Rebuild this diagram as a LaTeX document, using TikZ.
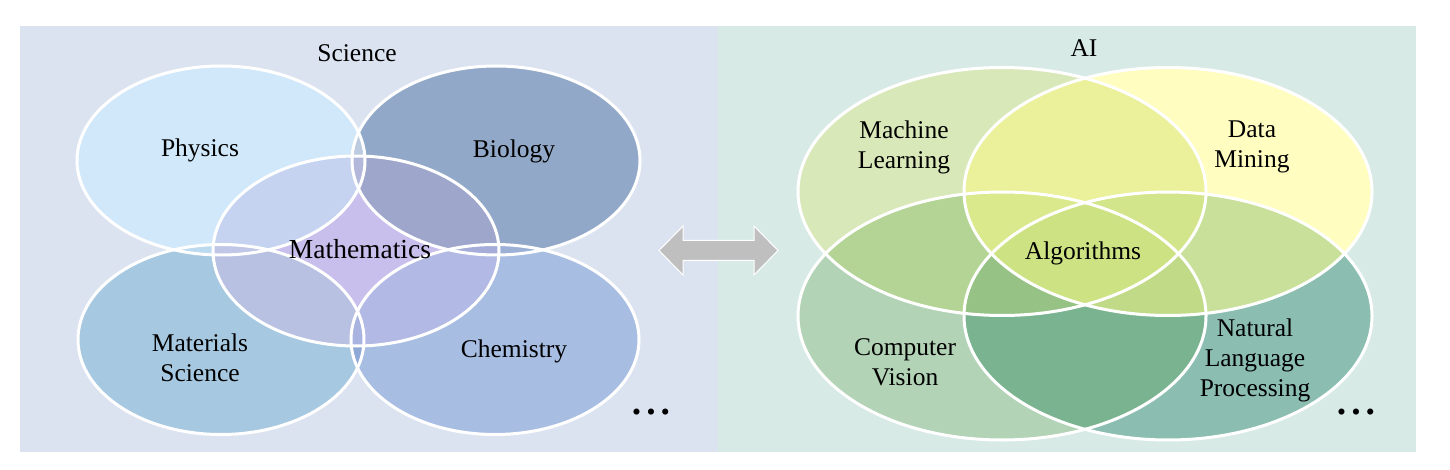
\documentclass[tikz,border=0pt]{standalone}
\usepackage{fontspec}
\setmainfont{Liberation Serif}
% panel backgrounds
\definecolor{bgL}{HTML}{DCE3F0}
\definecolor{bgR}{HTML}{D8EAE5}
% science
\definecolor{cPhy}{HTML}{D0E8FA}
\definecolor{cBio}{HTML}{92A8C8}
\definecolor{cMat}{HTML}{A6C8E0}
\definecolor{cChe}{HTML}{A7BDE2}
\definecolor{cMth}{HTML}{C8BFEC}
\definecolor{cPhyBio}{HTML}{BCCBE0}
\definecolor{cPhyMat}{HTML}{BCDAEF}
\definecolor{cBioChe}{HTML}{9CB0D6}
\definecolor{cMatChe}{HTML}{8FA9D6}
\definecolor{cMthPhy}{HTML}{C5D3F1}
\definecolor{cMthBio}{HTML}{9EA6CB}
\definecolor{cMthMat}{HTML}{B8C1E2}
\definecolor{cMthChe}{HTML}{B1B9E4}
\definecolor{cMthPhyBio}{HTML}{B3B8DA}
\definecolor{cMthPhyMat}{HTML}{BFC6E6}
\definecolor{cMthBioChe}{HTML}{A4ACD7}
\definecolor{cMthMatChe}{HTML}{A8B3E0}
% AI
\definecolor{cML}{HTML}{D9E8B9}
\definecolor{cDM}{HTML}{FFFDC0}
\definecolor{cCV}{HTML}{B3D3B6}
\definecolor{cNLP}{HTML}{8BBEB1}
\definecolor{cMLDM}{HTML}{EBF09B}
\definecolor{cMLCV}{HTML}{B4D495}
\definecolor{cDMNLP}{HTML}{C9E09A}
\definecolor{cCVNLP}{HTML}{7AB38F}
\definecolor{cMLNLP}{HTML}{C2DC8E}
\definecolor{cDMCV}{HTML}{CBE28E}
\definecolor{cMLDMCV}{HTML}{D9E98B}
\definecolor{cMLDMNLP}{HTML}{D3E58A}
\definecolor{cMLCVNLP}{HTML}{97C285}
\definecolor{cDMCVNLP}{HTML}{C0DA88}
\definecolor{cAll}{HTML}{CDE282}
\definecolor{cArrow}{HTML}{BFBFBF}

\def\vPhy{(221,160.5) ellipse [x radius=144pt, y radius=94.5pt]}
\def\vBio{(496,160.5) ellipse [x radius=144pt, y radius=94.5pt]}
\def\vMat{(221,339.5) ellipse [x radius=143pt, y radius=95pt]}
\def\vChe{(495,339.5) ellipse [x radius=144pt, y radius=95pt]}
\def\vMth{(356,251) ellipse [x radius=143pt, y radius=95pt]}
\def\vML{(1002,191.5) ellipse [x radius=204pt, y radius=124pt]}
\def\vDM{(1168,191.5) ellipse [x radius=204pt, y radius=124pt]}
\def\vCV{(1002,316) ellipse [x radius=204pt, y radius=124pt]}
\def\vNLP{(1168,316) ellipse [x radius=204pt, y radius=124pt]}

\tikzset{
  outline/.style={draw=white, line width=3pt},
  label/.style={align=center, text=black, inner sep=0pt},
  dots/.style={inner sep=0pt, text=black},
}
\begin{document}
\begin{tikzpicture}[x=1pt, y=-1pt, font=\fontsize{25.5pt}{30pt}\selectfont]
\useasboundingbox (0,0) rectangle (1450,470);
\fill[white] (0,0) rectangle (1450,470);
\fill[bgL] (20,26) rectangle (718,452);
\fill[bgR] (718,26) rectangle (1416,452);

% ---------- Science ----------
\fill[cPhy] \vPhy;
\fill[cBio] \vBio;
\fill[cMat] \vMat;
\fill[cChe] \vChe;
\begin{scope}\clip \vPhy; \fill[cPhyBio] \vBio; \end{scope}
\begin{scope}\clip \vPhy; \fill[cPhyMat] \vMat; \end{scope}
\begin{scope}\clip \vBio; \fill[cBioChe] \vChe; \end{scope}
\begin{scope}\clip \vMat; \fill[cMatChe] \vChe; \end{scope}
\fill[cMth] \vMth;
\begin{scope}\clip \vMth; \fill[cMthPhy] \vPhy; \end{scope}
\begin{scope}\clip \vMth; \fill[cMthBio] \vBio; \end{scope}
\begin{scope}\clip \vMth; \fill[cMthMat] \vMat; \end{scope}
\begin{scope}\clip \vMth; \fill[cMthChe] \vChe; \end{scope}
\begin{scope}\clip \vMth; \clip \vPhy; \fill[cMthPhyBio] \vBio; \end{scope}
\begin{scope}\clip \vMth; \clip \vPhy; \fill[cMthPhyMat] \vMat; \end{scope}
\begin{scope}\clip \vMth; \clip \vBio; \fill[cMthBioChe] \vChe; \end{scope}
\begin{scope}\clip \vMth; \clip \vMat; \fill[cMthMatChe] \vChe; \end{scope}
\draw[outline] \vPhy;
\draw[outline] \vBio;
\draw[outline] \vMat;
\draw[outline] \vChe;
\draw[outline] \vMth;

% ---------- AI ----------
\fill[cML] \vML;
\fill[cDM] \vDM;
\fill[cCV] \vCV;
\fill[cNLP] \vNLP;
\begin{scope}\clip \vML; \fill[cMLDM] \vDM; \end{scope}
\begin{scope}\clip \vML; \fill[cMLCV] \vCV; \end{scope}
\begin{scope}\clip \vDM; \fill[cDMNLP] \vNLP; \end{scope}
\begin{scope}\clip \vCV; \fill[cCVNLP] \vNLP; \end{scope}
\begin{scope}\clip \vML; \fill[cMLNLP] \vNLP; \end{scope}
\begin{scope}\clip \vDM; \fill[cDMCV] \vCV; \end{scope}
\begin{scope}\clip \vML; \clip \vDM; \fill[cMLDMCV] \vCV; \end{scope}
\begin{scope}\clip \vML; \clip \vDM; \fill[cMLDMNLP] \vNLP; \end{scope}
\begin{scope}\clip \vML; \clip \vCV; \fill[cMLCVNLP] \vNLP; \end{scope}
\begin{scope}\clip \vDM; \clip \vCV; \fill[cDMCVNLP] \vNLP; \end{scope}
\begin{scope}\clip \vML; \clip \vDM; \clip \vCV; \fill[cAll] \vNLP; \end{scope}
\draw[outline] \vML;
\draw[outline] \vDM;
\draw[outline] \vCV;
\draw[outline] \vNLP;

% ---------- double arrow ----------
\fill[cArrow, draw=white, line width=1pt]
  (659,250.5) -- (683,226) -- (683,240.5) -- (754,240.5) -- (754,226)
  -- (778,250.5) -- (754,275) -- (754,260.5) -- (683,260.5) -- (683,275) -- cycle;

% ---------- labels ----------
\node[label] (science) at (357,53) {Science};
\node[label] (physics) at (200,150) {Physics};
\node[label] (biology) at (514,151) {Biology};
\node[label, font=\fontsize{27.5pt}{30pt}\selectfont] (maths) at (360,249) {Mathematics};
\node[label] (materials) at (200,358) {Materials\\Science};
\node[label] (chemistry) at (514,351) {Chemistry};
\node[dots] (dotsL) at (651,415) {•\hspace{5.5pt}•\hspace{5.5pt}•};

\node[label] (ai) at (1084,48) {AI};
\node[label] (ml) at (904,147) {Machine\\Learning};
\node[label] (dm) at (1252,147) {Data\\Mining};
\node[label] (algo) at (1083,253) {Algorithms};
\node[label] (cv) at (905,362) {Computer\\Vision};
\node[label] (nlp) at (1255,360) {Natural\\Language\\Processing};
\node[dots] (dotsR) at (1356,415) {•\hspace{5.5pt}•\hspace{5.5pt}•};
\end{tikzpicture}
\end{document}
